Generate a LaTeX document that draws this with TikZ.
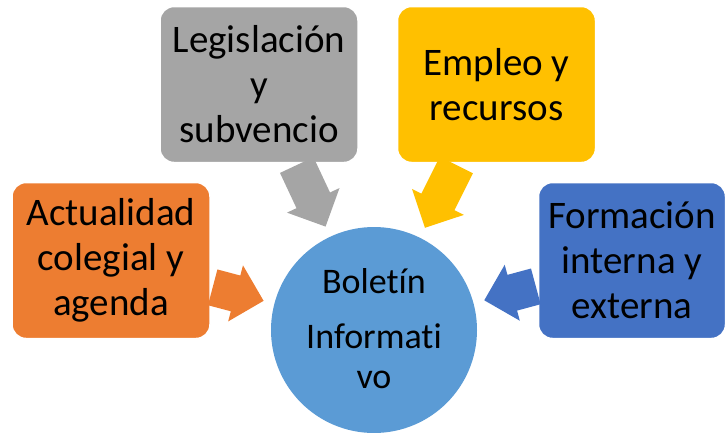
\documentclass[tikz,border=0pt]{standalone}
\usepackage{fontspec}
\setmainfont{Carlito}[Ligatures=NoCommon]
\usetikzlibrary{calc}
\definecolor{cnaranja}{HTML}{ED7D31}
\definecolor{cgris}{HTML}{A5A5A5}
\definecolor{camarillo}{HTML}{FFC000}
\definecolor{cazul}{HTML}{4472C4}
\definecolor{ccirculo}{HTML}{5B9BD5}

\newcommand{\flechabloque}[3]{%
  \path (#1) -- (#2) coordinate[pos=0] (fa) coordinate[pos=1] (fb) ;
  \coordinate (fs) at ($(fa)!2pt!(fb)$) ;
  \coordinate (ft) at ($(fb)!11pt!(fa)$) ;
  \coordinate (fm) at ($(ft)!29pt!(fa)$) ;
  \fill[#3] ($(fs)!18.5pt!90:(fb)$) -- ($(fm)!18.5pt!90:(ft)$) -- ($(fm)!29pt!90:(ft)$)
    -- (ft) -- ($(fm)!29pt!-90:(ft)$) -- ($(fm)!18.5pt!-90:(ft)$) -- ($(fs)!18.5pt!-90:(fb)$) -- cycle ;
}

\begin{document}
\begin{tikzpicture}[x=1pt,y=-1pt,
  caja/.style={rectangle,rounded corners=14pt,draw=white,line width=1.5pt,minimum width=198pt,minimum height=156pt,inner sep=2pt,align=center,font=\fontsize{39}{45}\selectfont},
  texto/.style={anchor=base,inner sep=0pt,font=\fontsize{36}{40}\selectfont}]

\useasboundingbox (0,0) rectangle (728,432) ;

\node[caja,fill=cnaranja] (actual) at (111,260.5) {Actualidad\\colegial y\\agenda} ;
\node[caja,fill=cgris] (legis) at (259,84.5) {Legislación\\y\\subvencio} ;
\node[caja,fill=camarillo] (empleo) at (496.5,84.5) {Empleo y\\recursos} ;
\node[caja,fill=cazul,minimum width=187pt] (formacion) at (632,260.5) {Formación\\interna y\\externa} ;

\node[circle,fill=ccirculo,minimum size=206pt,inner sep=0pt] (boletin) at (374,330) {} ;

\node[texto] (t_bol) at (374,293) {Boletín} ;
\node[texto] (t_inf) at (374,348) {Informati} ;
\node[texto] (t_vo) at (374,388) {vo} ;

\flechabloque{actual}{boletin}{cnaranja}
\flechabloque{legis}{boletin}{cgris}
\flechabloque{empleo}{boletin}{camarillo}
\flechabloque{formacion}{boletin}{cazul}

\end{tikzpicture}
\end{document}
